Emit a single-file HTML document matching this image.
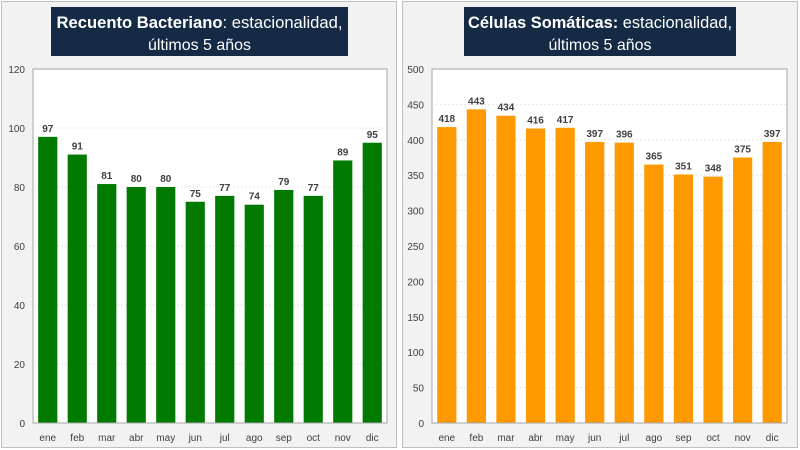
<!DOCTYPE html>
<html><head><meta charset="utf-8"><style>
body{margin:0;width:800px;height:450px;background:#fff;overflow:hidden;font-family:"Liberation Sans",sans-serif}
svg{display:block}
</style></head><body>
<svg id="c" width="800" height="450" xmlns="http://www.w3.org/2000/svg">
  <rect x="1.5" y="1.5" width="395" height="446" fill="#f2f2f2" stroke="#bfbfbf"/>
  <rect x="402.5" y="1.5" width="395" height="446" fill="#f2f2f2" stroke="#bfbfbf"/>
  <rect x="51" y="7" width="297" height="49" fill="#152a45"/>
  <text x="199.5" y="28" text-anchor="middle" fill="#fff" font-size="17" textLength="286" lengthAdjust="spacingAndGlyphs"><tspan font-weight="bold">Recuento Bacteriano</tspan>: estacionalidad,</text>
  <text x="199.5" y="50" text-anchor="middle" fill="#fff" font-size="16" textLength="103" lengthAdjust="spacingAndGlyphs">últimos 5 años</text>
  <rect x="464" y="7" width="272" height="49" fill="#152a45"/>
  <text x="600" y="28" text-anchor="middle" fill="#fff" font-size="17" textLength="264" lengthAdjust="spacingAndGlyphs"><tspan font-weight="bold">Células Somáticas:</tspan> estacionalidad,</text>
  <text x="600" y="50" text-anchor="middle" fill="#fff" font-size="16" textLength="103" lengthAdjust="spacingAndGlyphs">últimos 5 años</text>
</svg>
<script>
const months=["ene","feb","mar","abr","may","jun","jul","ago","sep","oct","nov","dic"];
const bacteriaValues=[97,91,81,80,80,75,77,74,79,77,89,95];
const bacteriaTicks=[0,20,40,60,80,100,120];
const cellValues=[418,443,434,416,417,397,396,365,351,348,375,397];
const cellTicks=[0,50,100,150,200,250,300,350,400,450,500];
const NS="http://www.w3.org/2000/svg";
const svg=document.getElementById('c');
function mk(tag,attrs,txt){const e=document.createElementNS(NS,tag);for(const k in attrs)e.setAttribute(k,attrs[k]);if(txt!==undefined)e.textContent=txt;svg.appendChild(e);return e;}
function chart(prefix,x0,x1,values,ticks,color){
  const y0=423,y1=69,max=ticks[ticks.length-1];
  const ys=v=>y0-(v/max)*(y0-y1);
  const pitch=(x1-x0)/months.length, bw=pitch*0.65;
  const plot=mk('rect',{x:x0,y:y1,width:x1-x0,height:y0-y1,fill:'#fff',stroke:'#a6a6a6'});
  
  
  ticks.forEach(t=>{
    if(t>0&&t<max){const g=mk('line',{x1:x0,x2:x1,y1:ys(t),y2:ys(t),stroke:'#e6e6e6','stroke-dasharray':'2,2'});
      
      }
    const l=mk('text',{x:x0-8,y:ys(t)+4,'text-anchor':'end','font-size':'10',fill:'#404040'},t);
    
    
  });
  values.forEach((v,i)=>{
    const cx=x0+pitch*(i+0.5);
    const b=mk('rect',{x:cx-bw/2,y:ys(v),width:bw,height:y0-ys(v),fill:color});
    
    
    const vl=mk('text',{x:cx,y:ys(v)-5,'text-anchor':'middle','font-size':'10','font-weight':'bold',fill:'#404040'},v);
    
    
    const ml=mk('text',{x:cx,y:441,'text-anchor':'middle','font-size':'10',fill:'#404040'},months[i]);
    
    
  });
  const ax=mk('line',{x1:x0,x2:x1,y1:y0,y2:y0,stroke:'#a6a6a6'});
  
  
}
chart('bacteria',33,387,bacteriaValues,bacteriaTicks,'#007a00');
chart('cells',432,787,cellValues,cellTicks,'#ff9900');
</script>
</body></html>
